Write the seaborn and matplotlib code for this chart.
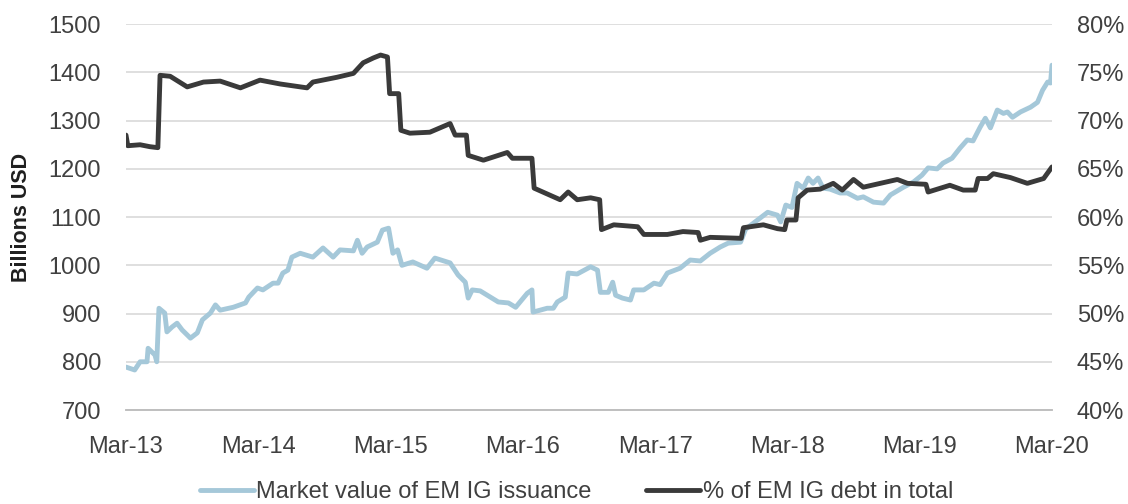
import pandas as pd
import matplotlib
matplotlib.use("Agg")
import matplotlib.pyplot as plt
import matplotlib.dates as mdates
from matplotlib.ticker import FuncFormatter
import seaborn as sns

# Market value of EM IG issuance (billions USD, left axis)
mv_dates = [
    "2013-03-01", "2013-03-25", "2013-04-09", "2013-04-28", "2013-05-01", "2013-05-20",
    "2013-05-25", "2013-05-31", "2013-06-16", "2013-06-22", "2013-07-06", "2013-07-20",
    "2013-08-03", "2013-08-26", "2013-09-14", "2013-09-28", "2013-10-20", "2013-11-03",
    "2013-11-16", "2013-12-22", "2014-01-25", "2014-02-03", "2014-02-27", "2014-03-14",
    "2014-04-11", "2014-04-25", "2014-05-08", "2014-05-22", "2014-06-02", "2014-06-25",
    "2014-07-30", "2014-08-27", "2014-09-24", "2014-10-13", "2014-11-19", "2014-11-30",
    "2014-12-13", "2014-12-27", "2015-01-24", "2015-02-07", "2015-02-24", "2015-03-08",
    "2015-03-21", "2015-04-02", "2015-05-02", "2015-06-10", "2015-07-02", "2015-08-13",
    "2015-09-04", "2015-09-24", "2015-10-02", "2015-10-13", "2015-11-04", "2015-12-02",
    "2015-12-24", "2016-01-21", "2016-02-10", "2016-03-13", "2016-03-26", "2016-03-29",
    "2016-05-07", "2016-05-24", "2016-06-04", "2016-06-26", "2016-07-04", "2016-07-29",
    "2016-09-04", "2016-09-23", "2016-10-01", "2016-10-23", "2016-11-04", "2016-11-12",
    "2016-12-01", "2016-12-23", "2017-01-01", "2017-01-29", "2017-02-26", "2017-03-15",
    "2017-04-04", "2017-05-09", "2017-06-06", "2017-07-04", "2017-07-31", "2017-08-28",
    "2017-09-19", "2017-10-23", "2017-11-06", "2017-12-09", "2018-01-06", "2018-02-02",
    "2018-02-11", "2018-02-25", "2018-03-14", "2018-03-28", "2018-04-14", "2018-04-28",
    "2018-05-11", "2018-05-25", "2018-06-08", "2018-06-27", "2018-07-25", "2018-08-14",
    "2018-09-11", "2018-09-27", "2018-10-25", "2018-11-22", "2018-12-11", "2019-01-16",
    "2019-02-13", "2019-03-08", "2019-03-25", "2019-04-19", "2019-05-05", "2019-05-30",
    "2019-06-21", "2019-07-11", "2019-07-27", "2019-08-16", "2019-08-30", "2019-09-13",
    "2019-10-02", "2019-10-19", "2019-10-30", "2019-11-13", "2019-12-05", "2020-01-02",
    "2020-01-21", "2020-02-04", "2020-02-18", "2020-02-26", "2020-03-01",
]
mv_values = [
    789, 783, 800, 800, 828, 814,
    800, 911, 901, 862, 872, 880,
    866, 849, 860, 887, 901, 918,
    907, 913, 922, 934, 953, 949,
    963, 963, 984, 990, 1017, 1025,
    1017, 1036, 1017, 1032, 1030, 1052,
    1025, 1038, 1048, 1073, 1077, 1025,
    1032, 1000, 1007, 994, 1015, 1005,
    980, 965, 932, 949, 947, 934,
    924, 922, 913, 942, 949, 903,
    911, 911, 924, 934, 984, 982,
    997, 990, 944, 944, 965, 938,
    932, 928, 949, 949, 963, 960,
    984, 994, 1011, 1009, 1025, 1038,
    1046, 1048, 1075, 1094, 1110, 1104,
    1090, 1125, 1120, 1170, 1160, 1181,
    1170, 1181, 1160, 1158, 1150, 1150,
    1139, 1142, 1131, 1129, 1146, 1162,
    1173, 1187, 1202, 1200, 1212, 1222,
    1243, 1260, 1258, 1287, 1305, 1285,
    1322, 1315, 1318, 1307, 1318, 1328,
    1338, 1363, 1380, 1378, 1415,
]

# % of EM IG debt in total (right axis)
share_dates = [
    "2013-03-01", "2013-03-06", "2013-04-09", "2013-05-06", "2013-05-28", "2013-06-03",
    "2013-07-01", "2013-08-17", "2013-10-01", "2013-11-16", "2014-01-11", "2014-03-06",
    "2014-05-01", "2014-07-14", "2014-07-30", "2014-10-05", "2014-11-19", "2014-12-16",
    "2015-01-13", "2015-02-02", "2015-02-21", "2015-02-27", "2015-03-24", "2015-03-30",
    "2015-04-24", "2015-06-18", "2015-08-13", "2015-08-27", "2015-09-27", "2015-10-02",
    "2015-11-13", "2016-01-18", "2016-02-01", "2016-03-26", "2016-04-01", "2016-06-12",
    "2016-07-04", "2016-07-29", "2016-09-04", "2016-09-29", "2016-10-04", "2016-11-07",
    "2017-01-12", "2017-01-29", "2017-04-04", "2017-05-17", "2017-06-28", "2017-07-04",
    "2017-07-31", "2017-10-25", "2017-10-31", "2017-12-25", "2018-02-02", "2018-02-22",
    "2018-02-28", "2018-03-25", "2018-03-31", "2018-04-25", "2018-05-31", "2018-07-06",
    "2018-07-31", "2018-08-31", "2018-09-27", "2018-11-13", "2018-12-30", "2019-01-27",
    "2019-03-19", "2019-03-25", "2019-05-24", "2019-06-30", "2019-08-02", "2019-08-10",
    "2019-09-05", "2019-09-21", "2019-11-07", "2019-12-24", "2020-02-07", "2020-03-01",
]
share_values = [
    68.5, 67.4, 67.5, 67.3, 67.2, 74.7,
    74.6, 73.5, 74.0, 74.1, 73.4, 74.2,
    73.8, 73.4, 74.0, 74.5, 74.9, 76.0,
    76.5, 76.8, 76.6, 72.8, 72.8, 69.0,
    68.7, 68.8, 69.7, 68.5, 68.5, 66.4,
    65.9, 66.7, 66.1, 66.1, 63.0, 61.8,
    62.6, 61.8, 62.0, 61.8, 58.7, 59.2,
    59.0, 58.2, 58.2, 58.5, 58.4, 57.6,
    57.9, 57.8, 58.9, 59.2, 58.8, 58.7,
    59.7, 59.7, 62.0, 62.8, 62.9, 63.5,
    62.8, 63.9, 63.1, 63.5, 63.9, 63.5,
    63.4, 62.6, 63.3, 62.8, 62.8, 64.0,
    64.0, 64.5, 64.1, 63.5, 64.0, 65.2,
]

mv = pd.DataFrame({"date": pd.to_datetime(mv_dates), "value": mv_values})
share = pd.DataFrame({"date": pd.to_datetime(share_dates), "value": share_values})

sns.set_style("white")
plt.rcParams["font.family"] = ["Liberation Sans", "DejaVu Sans"]
text_col = "#404040"
fs = 17

fig = plt.figure(figsize=(11.28, 5.04), dpi=100)
ax = fig.add_axes([0.1117, 0.1865, 0.8209, 0.7655])
ax2 = ax.twinx()

sns.lineplot(data=mv, x="date", y="value", ax=ax, color="#A5C8D9", linewidth=3.5,
             label="Market value of EM IG issuance", legend=False)
sns.lineplot(data=share, x="date", y="value", ax=ax2, color="#3A3A3A", linewidth=3.5,
             label="% of EM IG debt in total", legend=False)

ax.set_xlim(pd.Timestamp("2013-03-01"), pd.Timestamp("2020-03-01"))
ax.set_ylim(700, 1500)
ax2.set_ylim(40, 80)
ax.set_yticks(range(700, 1501, 100))
ax2.set_yticks(range(40, 81, 5))
ax2.yaxis.set_major_formatter(FuncFormatter(lambda v, p: f"{v:.0f}%"))

ax.xaxis.set_major_locator(mdates.MonthLocator(bymonth=3))
ax.xaxis.set_major_formatter(mdates.DateFormatter("%b-%y"))

ax.grid(axis="y", color="#D9D9D9", linewidth=1.2)
ax.set_axisbelow(True)
for a in (ax, ax2):
    for s in ("top", "left", "right"):
        a.spines[s].set_visible(False)
    a.spines["bottom"].set_color("#BFBFBF")
    a.spines["bottom"].set_linewidth(1.2)

ax.tick_params(axis="x", direction="out", length=7, width=1.2, color="#BFBFBF",
               labelsize=fs, labelcolor=text_col, pad=12)
ax.tick_params(axis="y", length=0, labelsize=fs, labelcolor=text_col, pad=18)
ax2.tick_params(axis="y", length=0, labelsize=fs, labelcolor=text_col, pad=18)

ax.set_xlabel("")
ax.set_ylabel("Billions USD", fontsize=15.5, fontweight="bold", color="#1F1F1F", labelpad=12)
ax2.set_ylabel("")

h1, l1 = ax.get_legend_handles_labels()
h2, l2 = ax2.get_legend_handles_labels()
fig.legend(h1 + h2, l1 + l2, loc="center", bbox_to_anchor=(0.511, 0.024), ncol=2,
           frameon=False, fontsize=fs, labelcolor=text_col, handlelength=2.3,
           handletextpad=0.1, columnspacing=2.3)

fig.savefig("out.png", dpi=100)
